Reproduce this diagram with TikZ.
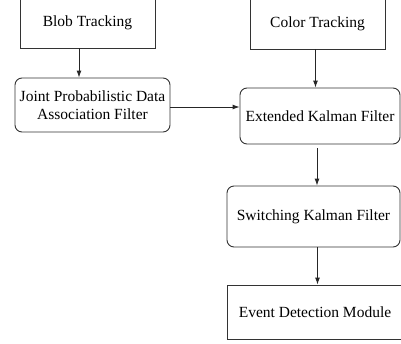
\documentclass[tikz,border=0pt]{standalone}
\usepackage{fontspec}
\setmainfont{Liberation Serif}
\usetikzlibrary{arrows.meta}

\tikzset{
  stage/.style={draw=black!80, line width=0.9pt, align=center, inner sep=2pt,
    font=\fontsize{15.5}{18}\selectfont},
  plainstage/.style={stage},
  roundstage/.style={stage, rounded corners=7pt},
  flow/.style={-{Latex[length=7pt,width=5pt]}, line width=0.9pt, black!85}
}

\begin{document}
\begin{tikzpicture}[x=1pt,y=-1pt]
    \useasboundingbox (0,0) rectangle (401,343);

    % trackers on top
    \node[plainstage, minimum width=135pt, minimum height=50pt] (blob) at (87.5,23) {Blob Tracking};
    \node[plainstage, minimum width=135pt, minimum height=51pt] (color) at (317.5,23.5) {Color Tracking};

    % filters
    \node[roundstage, minimum width=155pt, minimum height=54pt] (jpdaf) at (92.5,105)
        {Joint Probabilistic Data\\Association Filter};
    \node[roundstage, minimum width=160pt, minimum height=56pt] (ekf) at (320,116) {Extended Kalman Filter};
    \node[roundstage, minimum width=173pt, minimum height=61pt] (skf) at (313.5,216.5) {Switching Kalman Filter};
    \node[plainstage, minimum width=176pt, minimum height=54pt] (event) at (315,312) {Event Detection Module};

    \draw[flow] ([xshift=-8.5pt]blob.south) -- ([xshift=-8.5pt]blob.south |- jpdaf.north);
    \draw[flow] ([yshift=-2pt]jpdaf.east) -- ([yshift=-2pt]jpdaf.east -| ekf.west);
    \draw[flow] ([xshift=-2pt]color.south) -- ([xshift=-2pt]color.south |- ekf.north);
    \draw[flow, shorten <=4pt] ([xshift=-3pt]ekf.south) -- ([xshift=-3pt]ekf.south |- skf.north);
    \draw[flow] ([xshift=4pt]skf.south) -- ([xshift=4pt]skf.south |- event.north);
\end{tikzpicture}
\end{document}
